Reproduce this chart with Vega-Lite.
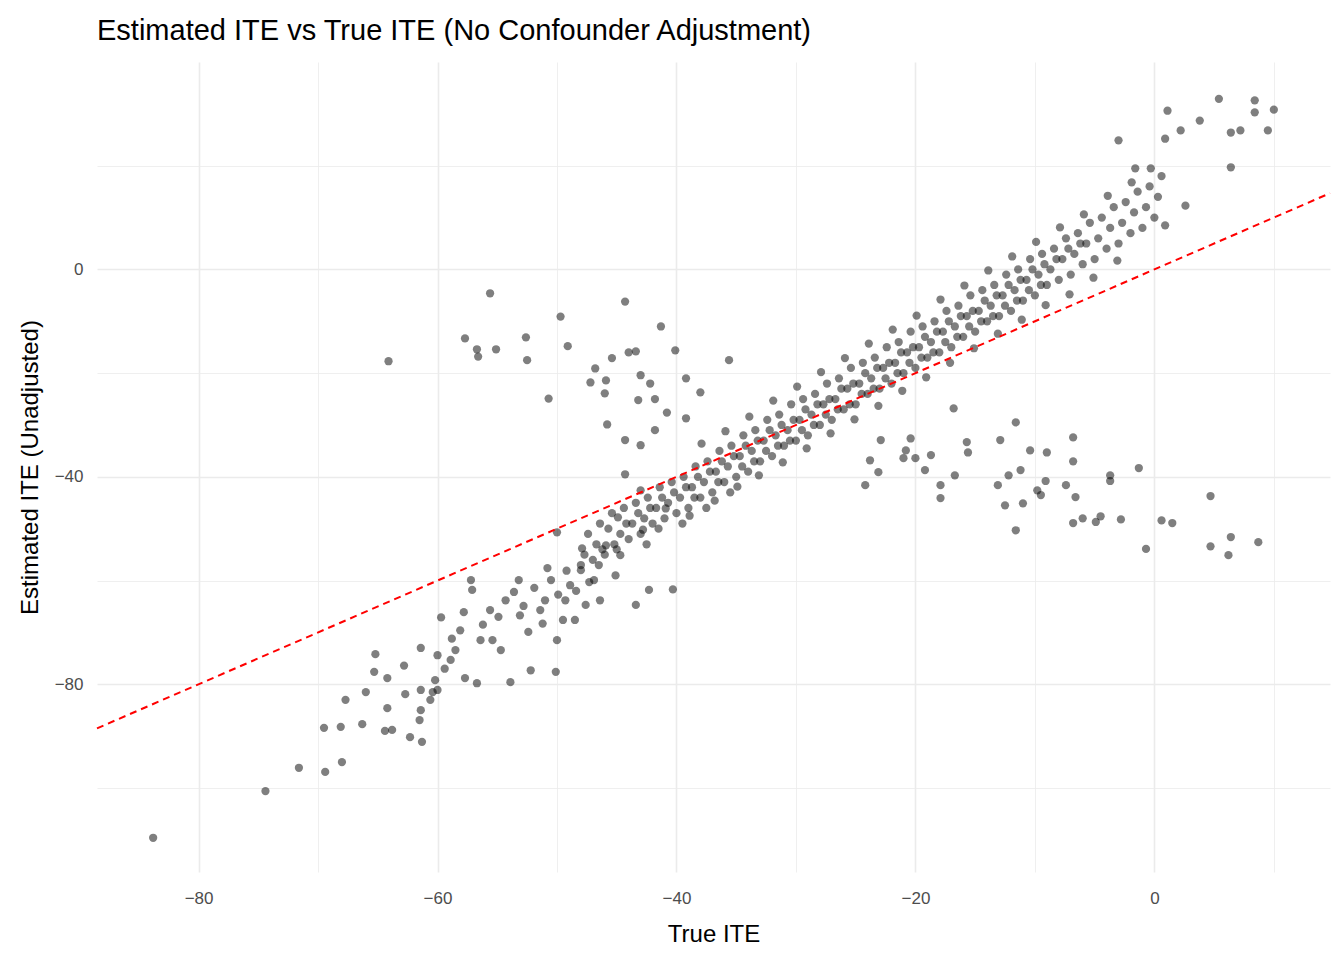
{
  "$schema": "https://vega.github.io/schema/vega-lite/v6.json",
  "width": 1233,
  "height": 810,
  "autosize": "none",
  "padding": {"left": 97, "top": 62, "right": 14, "bottom": 88},
  "background": "white",
  "config": {
    "font": "Liberation Sans",
    "view": {"stroke": null},
    "axis": {
      "domain": false, "ticks": false, "gridColor": "#ebebeb",
      "labelColor": "#4d4d4d", "labelFontSize": 17, "titleFontSize": 24,
      "titleFontWeight": "normal", "titleColor": "black"
    }
  },
  "title": {"text": "Estimated ITE vs True ITE (No Confounder Adjustment)", "anchor": "start", "frame": "group", "fontSize": 29, "fontWeight": "normal", "offset": 16},
  "layer": [
    {
      "data": {"values": [
{"t":-64.1,"e":-17.7},{"t":-55.6,"e":-4.6},{"t":-57.7,"e":-13.3},{"t":-56.7,"e":-15.4},{"t":-56.6,"e":-16.8},{"t":-55.1,"e":-15.4},{"t":-52.6,"e":-13.1},{"t":-52.5,"e":-17.5},{"t":-49.7,"e":-9.1},{"t":-49.1,"e":-14.8},{"t":-50.7,"e":-24.9},{"t":-44.3,"e":-6.2},{"t":-41.3,"e":-11.0},{"t":-46.8,"e":-19.1},{"t":-45.4,"e":-17.1},{"t":-44.0,"e":-16.0},{"t":-43.4,"e":-15.8},{"t":-43.0,"e":-20.4},{"t":-42.2,"e":-22.0},{"t":-45.9,"e":-21.4},{"t":-47.2,"e":-21.8},{"t":-46.0,"e":-23.9},{"t":-43.2,"e":-25.2},{"t":-41.8,"e":-25.0},{"t":-40.1,"e":-15.6},{"t":-39.2,"e":-21.0},{"t":-38.0,"e":-23.7},{"t":-35.6,"e":-17.5},{"t":-45.8,"e":-29.9},{"t":-44.3,"e":-32.9},{"t":-43.0,"e":-33.9},{"t":-41.8,"e":-31.0},{"t":-40.8,"e":-27.6},{"t":-39.2,"e":-28.7},{"t":-44.3,"e":-39.5},{"t":-43.0,"e":-42.6},
{"t":-1.3,"e":-38.3},{"t":-6.8,"e":-32.4},{"t":-6.8,"e":-37.0},{"t":-9.0,"e":-35.3},{"t":-10.4,"e":-34.9},{"t":-11.6,"e":-29.5},{"t":-12.9,"e":-32.9},{"t":-11.2,"e":-38.7},{"t":-12.2,"e":-39.7},{"t":-13.1,"e":-41.6},{"t":-12.5,"e":-45.5},{"t":-11.0,"e":-45.1},{"t":-11.6,"e":-50.3},{"t":-9.8,"e":-42.6},{"t":-9.1,"e":-40.8},{"t":-9.5,"e":-43.5},{"t":-7.4,"e":-41.6},{"t":-6.6,"e":-43.9},{"t":-6.8,"e":-48.9},{"t":-6.0,"e":-48.0},{"t":-4.9,"e":-48.7},{"t":-4.5,"e":-47.6},{"t":-3.7,"e":-39.7},{"t":-3.7,"e":-40.8},{"t":-2.8,"e":-48.2},{"t":-0.7,"e":-53.9},{"t":0.6,"e":-48.4},{"t":1.5,"e":-48.9},{"t":4.7,"e":-43.7},{"t":4.7,"e":-53.4},{"t":6.2,"e":-55.1},{"t":6.4,"e":-51.6},{"t":8.7,"e":-52.6},{"t":-15.7,"e":-33.3},{"t":-16.7,"e":-39.7},{"t":-17.9,"e":-41.6},{"t":-17.9,"e":-44.1},{"t":-15.6,"e":-35.3},{"t":-16.8,"e":-26.8},{"t":-18.7,"e":-35.8},{"t":-20.4,"e":-32.6},{"t":-20.8,"e":-34.9},{"t":-21.0,"e":-36.4},{"t":-20.0,"e":-36.4},{"t":-19.2,"e":-38.7},{"t":-22.9,"e":-32.9},{"t":-23.8,"e":-36.8},{"t":-24.2,"e":-41.6},{"t":-23.1,"e":-39.1},
{"t":-83.8,"e":-109.6},{"t":-74.4,"e":-100.6},{"t":-71.6,"e":-96.1},{"t":-69.4,"e":-96.9},{"t":-69.5,"e":-88.4},{"t":-68.1,"e":-88.2},{"t":-68.0,"e":-95.0},{"t":-67.7,"e":-83.0},{"t":-66.3,"e":-87.7},{"t":-66.0,"e":-81.5},{"t":-65.3,"e":-77.6},{"t":-65.2,"e":-74.2},{"t":-64.2,"e":-78.8},{"t":-64.2,"e":-84.6},{"t":-64.4,"e":-89.0},{"t":-63.8,"e":-88.8},{"t":-62.7,"e":-81.9},{"t":-62.3,"e":-90.2},{"t":-61.3,"e":-91.1},{"t":-61.5,"e":-86.9},{"t":-61.4,"e":-85.0},{"t":-61.4,"e":-81.1},{"t":-61.4,"e":-73.0},{"t":-60.6,"e":-83.0},{"t":-60.4,"e":-81.5},{"t":-60.0,"e":-81.1},{"t":-60.2,"e":-79.2},{"t":-60.0,"e":-74.4},{"t":-59.7,"e":-67.1},{"t":-58.9,"e":-75.3},{"t":-58.5,"e":-73.4},{"t":-58.1,"e":-69.6},{"t":-57.8,"e":-66.1},{"t":-57.7,"e":-78.8},{"t":-57.2,"e":-59.9},{"t":-57.1,"e":-61.8},{"t":-56.7,"e":-79.8},{"t":-56.4,"e":-71.5},{"t":-55.6,"e":-65.7},{"t":-55.4,"e":-71.5},{"t":-54.7,"e":-73.4},{"t":-54.3,"e":-63.8},{"t":-53.9,"e":-79.6},{"t":-53.2,"e":-59.9},{"t":-53.1,"e":-66.7},{"t":-52.4,"e":-69.9},{"t":-52.2,"e":-77.3},{"t":-51.4,"e":-65.7},{"t":-51.0,"e":-63.8},{"t":-50.5,"e":-59.9},{"t":-50.1,"e":-77.6},{"t":-50.0,"e":-71.5},{"t":-49.5,"e":-67.6},{"t":-49.3,"e":-63.8},{"t":-48.9,"e":-60.9},{"t":-48.5,"e":-67.6},{"t":-48.0,"e":-57.0},{"t":-47.6,"e":-64.7},{"t":-46.9,"e":-59.9},{"t":-46.5,"e":-57.0},{"t":-46.4,"e":-63.8},{"t":-45.9,"e":-53.2},{"t":-45.1,"e":-59.0},{"t":-44.7,"e":-55.1},{"t":-43.4,"e":-64.7},{"t":-42.3,"e":-61.8},{"t":-40.3,"e":-61.7},{"t":-50.0,"e":-50.7},
{"t":-56.2,"e":-68.5},{"t":-54.9,"e":-67.0},{"t":-53.6,"e":-62.2},{"t":-52.8,"e":-64.9},{"t":-51.9,"e":-61.4},{"t":-51.2,"e":-68.3},{"t":-50.8,"e":-57.6},{"t":-49.9,"e":-62.7},{"t":-49.2,"e":-58.1},{"t":-48.4,"e":-62.0},{"t":-47.9,"e":-53.8},{"t":-47.3,"e":-60.3},{"t":-58.8,"e":-71.2},{"t":-59.4,"e":-77.0},{"t":-62.8,"e":-76.4},
{"t":1.1,"e":30.6},{"t":5.4,"e":32.9},{"t":8.4,"e":32.6},{"t":10.0,"e":30.8},{"t":8.4,"e":30.3},{"t":6.4,"e":26.4},{"t":7.2,"e":26.8},{"t":9.5,"e":26.8},{"t":3.8,"e":28.7},{"t":2.2,"e":26.8},{"t":0.9,"e":25.2},{"t":-3.0,"e":24.9},{"t":6.4,"e":19.7},{"t":-1.6,"e":19.5},{"t":-0.3,"e":19.5},{"t":2.6,"e":12.3},{"t":0.9,"e":8.5},
{"t":-48.0,"e":-58},{"t":-47.7,"e":-55},{"t":-47.4,"e":-51},
{"t":-47.0,"e":-56},{"t":-46.7,"e":-53},{"t":-46.4,"e":-49},{"t":-46.2,"e":-54},
{"t":-46.0,"e":-55},{"t":-45.7,"e":-50},{"t":-45.4,"e":-47},{"t":-45.2,"e":-53},
{"t":-45.0,"e":-54},{"t":-44.7,"e":-51},{"t":-44.4,"e":-46},{"t":-44.2,"e":-49},
{"t":-44.0,"e":-52},{"t":-43.7,"e":-49},{"t":-43.4,"e":-45},{"t":-43.2,"e":-47},
{"t":-43.0,"e":-51},{"t":-42.7,"e":-48},{"t":-42.4,"e":-44},{"t":-42.2,"e":-46},{"t":-42.5,"e":-53},
{"t":-42.0,"e":-49},{"t":-41.7,"e":-46},{"t":-41.4,"e":-42},{"t":-41.2,"e":-44},{"t":-41.5,"e":-50},
{"t":-41.0,"e":-48},{"t":-40.7,"e":-45},{"t":-40.4,"e":-41},{"t":-40.2,"e":-43},
{"t":-40.0,"e":-47},{"t":-39.7,"e":-44},{"t":-39.4,"e":-40},{"t":-39.2,"e":-42},{"t":-39.5,"e":-49},
{"t":-39.0,"e":-46},{"t":-38.7,"e":-42},{"t":-38.4,"e":-38},{"t":-38.2,"e":-40},{"t":-38.5,"e":-44},
{"t":-38.0,"e":-44},{"t":-37.7,"e":-41},{"t":-37.4,"e":-37},{"t":-37.2,"e":-39},{"t":-37.5,"e":-46},
{"t":-37.0,"e":-43},{"t":-36.7,"e":-39},{"t":-36.4,"e":-35},{"t":-36.2,"e":-37},{"t":-36.5,"e":-41},
{"t":-36.0,"e":-41},{"t":-35.7,"e":-38},{"t":-35.4,"e":-34},{"t":-35.2,"e":-36},{"t":-35.5,"e":-43},
{"t":-35.0,"e":-40},{"t":-34.7,"e":-36},{"t":-34.4,"e":-32},{"t":-34.2,"e":-34},{"t":-34.5,"e":-38},
{"t":-34.0,"e":-39},{"t":-33.7,"e":-35},{"t":-33.4,"e":-31},{"t":-33.2,"e":-33},{"t":-33.5,"e":-37},
{"t":-33.0,"e":-37},{"t":-32.7,"e":-33},{"t":-32.4,"e":-29},{"t":-32.2,"e":-31},{"t":-32.5,"e":-35},
{"t":-32.0,"e":-36},{"t":-31.7,"e":-32},{"t":-31.4,"e":-28},{"t":-31.2,"e":-30},{"t":-31.5,"e":-34},
{"t":-31.0,"e":-34},{"t":-30.7,"e":-31},{"t":-30.4,"e":-26},{"t":-30.2,"e":-29},{"t":-30.5,"e":-33},
{"t":-30.0,"e":-33},{"t":-29.7,"e":-29},{"t":-29.4,"e":-25},{"t":-29.2,"e":-27},{"t":-29.5,"e":-31},
{"t":-29.0,"e":-32},{"t":-28.7,"e":-28},{"t":-28.4,"e":-24},{"t":-28.2,"e":-26},{"t":-28.5,"e":-30},
{"t":-28.0,"e":-30},{"t":-27.7,"e":-26},{"t":-27.4,"e":-22},{"t":-27.2,"e":-25},{"t":-27.5,"e":-28},
{"t":-27.0,"e":-29},{"t":-26.7,"e":-25},{"t":-26.4,"e":-21},{"t":-26.2,"e":-23},{"t":-26.5,"e":-27},
{"t":-26.0,"e":-27},{"t":-25.7,"e":-23},{"t":-25.4,"e":-19},{"t":-25.2,"e":-22},{"t":-25.5,"e":-26},
{"t":-25.0,"e":-26},{"t":-24.7,"e":-22},{"t":-24.4,"e":-18},{"t":-24.2,"e":-20},{"t":-24.5,"e":-24},
{"t":-24.0,"e":-24},{"t":-23.7,"e":-21},{"t":-23.4,"e":-17},{"t":-23.2,"e":-19},{"t":-23.5,"e":-23},
{"t":-23.0,"e":-23},{"t":-22.7,"e":-19},{"t":-22.4,"e":-15},{"t":-22.2,"e":-18},{"t":-22.5,"e":-21},
{"t":-22.0,"e":-22},{"t":-21.7,"e":-18},{"t":-21.4,"e":-14},{"t":-21.2,"e":-16},{"t":-21.5,"e":-20},
{"t":-21.0,"e":-20},{"t":-20.7,"e":-16},{"t":-20.4,"e":-12},{"t":-20.2,"e":-15},{"t":-20.5,"e":-18},
{"t":-20.0,"e":-19},{"t":-19.7,"e":-15},{"t":-19.4,"e":-11},{"t":-19.2,"e":-13},{"t":-19.5,"e":-17},
{"t":-19.0,"e":-17},{"t":-18.7,"e":-14},{"t":-18.4,"e":-10},{"t":-18.2,"e":-12},{"t":-18.5,"e":-16},
{"t":-18.0,"e":-16},{"t":-17.7,"e":-12},{"t":-17.4,"e":-8},{"t":-17.2,"e":-10},{"t":-17.5,"e":-14},
{"t":-17.0,"e":-15},{"t":-16.7,"e":-11},{"t":-16.4,"e":-7},{"t":-16.2,"e":-9},{"t":-16.5,"e":-13},
{"t":-16.0,"e":-13},{"t":-15.7,"e":-9},{"t":-15.4,"e":-5},{"t":-15.2,"e":-8},{"t":-15.5,"e":-11},
{"t":-15.0,"e":-12},{"t":-14.7,"e":-8},{"t":-14.4,"e":-4},{"t":-14.2,"e":-6},{"t":-14.5,"e":-10},
{"t":-14.0,"e":-10},{"t":-13.7,"e":-7},{"t":-13.4,"e":-3},{"t":-13.2,"e":-5},{"t":-13.5,"e":-9},
{"t":-13.0,"e":-9},{"t":-12.7,"e":-5},{"t":-12.4,"e":-1},{"t":-12.2,"e":-3},{"t":-12.5,"e":-7},
{"t":-12.0,"e":-8},{"t":-11.7,"e":-4},{"t":-11.4,"e":0},{"t":-11.2,"e":-2},{"t":-11.5,"e":-6},
{"t":-11.0,"e":-6},{"t":-10.7,"e":-2},{"t":-10.4,"e":2},{"t":-10.2,"e":0},{"t":-10.5,"e":-4},
{"t":-10.0,"e":-5},{"t":-9.7,"e":-1},{"t":-9.4,"e":3},{"t":-9.2,"e":1},{"t":-9.5,"e":-3},
{"t":-9.0,"e":-3},{"t":-8.7,"e":0},{"t":-8.4,"e":4},{"t":-8.2,"e":2},
{"t":-8.0,"e":-2},{"t":-7.7,"e":2},{"t":-7.4,"e":6},{"t":-7.2,"e":4},
{"t":-7.0,"e":-1},{"t":-6.7,"e":3},{"t":-6.4,"e":7},{"t":-6.2,"e":5},
{"t":-6.0,"e":1},{"t":-5.7,"e":5},{"t":-5.4,"e":9},
{"t":-5.0,"e":2},{"t":-4.7,"e":6},{"t":-4.4,"e":10},
{"t":-4.0,"e":4},{"t":-3.7,"e":8},{"t":-3.4,"e":12},
{"t":-3.0,"e":5},{"t":-2.7,"e":9},{"t":-2.4,"e":13},
{"t":-2.0,"e":7},{"t":-1.7,"e":11},{"t":-1.4,"e":15},
{"t":-1.0,"e":8},{"t":-0.7,"e":12},{"t":-0.4,"e":16},
{"t":0.0,"e":10},{"t":0.3,"e":14},{"t":0.6,"e":18},
{"t":-44.9,"e":-47.8},{"t":-42.8,"e":-50.2},{"t":-40.9,"e":-46.1},{"t":-38.9,"e":-47.5},{"t":-36.8,"e":-44.6},{"t":-34.9,"e":-41.9},{"t":-33.1,"e":-39.7},{"t":-31.1,"e":-37.2},{"t":-29.1,"e":-34.5},{"t":-27.1,"e":-31.6},{"t":-25.1,"e":-28.9},{"t":-23.1,"e":-26.3},{"t":-21.1,"e":-23.4},{"t":-19.1,"e":-20.8},{"t":-17.1,"e":-18.0},{"t":-15.1,"e":-15.2},{"t":-13.1,"e":-12.4},{"t":-11.1,"e":-9.7},{"t":-9.1,"e":-6.9},{"t":-7.1,"e":-4.8},{"t":-5.1,"e":-1.6},{"t":-3.1,"e":1.7},
{"t":-37.9,"e":-33.6},{"t":-35.9,"e":-31.2},{"t":-33.9,"e":-28.4},{"t":-31.9,"e":-25.3},{"t":-29.9,"e":-22.6},{"t":-27.9,"e":-19.8},{"t":-25.9,"e":-17.1},{"t":-23.9,"e":-14.3},{"t":-21.9,"e":-11.6},{"t":-19.9,"e":-8.9},{"t":-17.9,"e":-5.8},{"t":-15.9,"e":-3.1},{"t":-13.9,"e":-0.2},{"t":-11.9,"e":2.5},{"t":-9.9,"e":5.3},{"t":-7.9,"e":8.1},{"t":-5.9,"e":10.6},{"t":-3.9,"e":14.2},{"t":-1.9,"e":16.8}
      ]},
      "mark": {"type": "circle", "size": 68, "color": "black", "opacity": 0.5},
      "encoding": {
        "x": {"field": "t", "type": "quantitative", "title": "True ITE",
          "scale": {"domain": [-88.5, 14.7], "nice": false, "zero": false},
          "axis": {"values": [-80,-70,-60,-50,-40,-30,-20,-10,0,10],
            "labelExpr": "datum.value % 20 == 0 ? datum.label : ''",
            "gridWidth": {"expr": "datum.value % 20 == 0 ? 1.6 : 0.8"},
            "labelPadding": 18, "titlePadding": 16}},
        "y": {"field": "e", "type": "quantitative", "title": "Estimated ITE (Unadjusted)",
          "scale": {"domain": [-116.2, 40], "nice": false, "zero": false},
          "axis": {"values": [-100,-80,-60,-40,-20,0,20],
            "labelExpr": "datum.value % 40 == 0 ? datum.label : ''",
            "gridWidth": {"expr": "datum.value % 40 == 0 ? 1.6 : 0.8"},
            "labelPadding": 14, "titlePadding": 12}}
      }
    },
    {
      "data": {"values": [{"t": -88.5, "e": -88.5}, {"t": 14.7, "e": 14.7}]},
      "mark": {"type": "line", "color": "red", "strokeDash": [7, 5], "strokeWidth": 2},
      "encoding": {
        "x": {"field": "t", "type": "quantitative"},
        "y": {"field": "e", "type": "quantitative"}
      }
    }
  ]
}
